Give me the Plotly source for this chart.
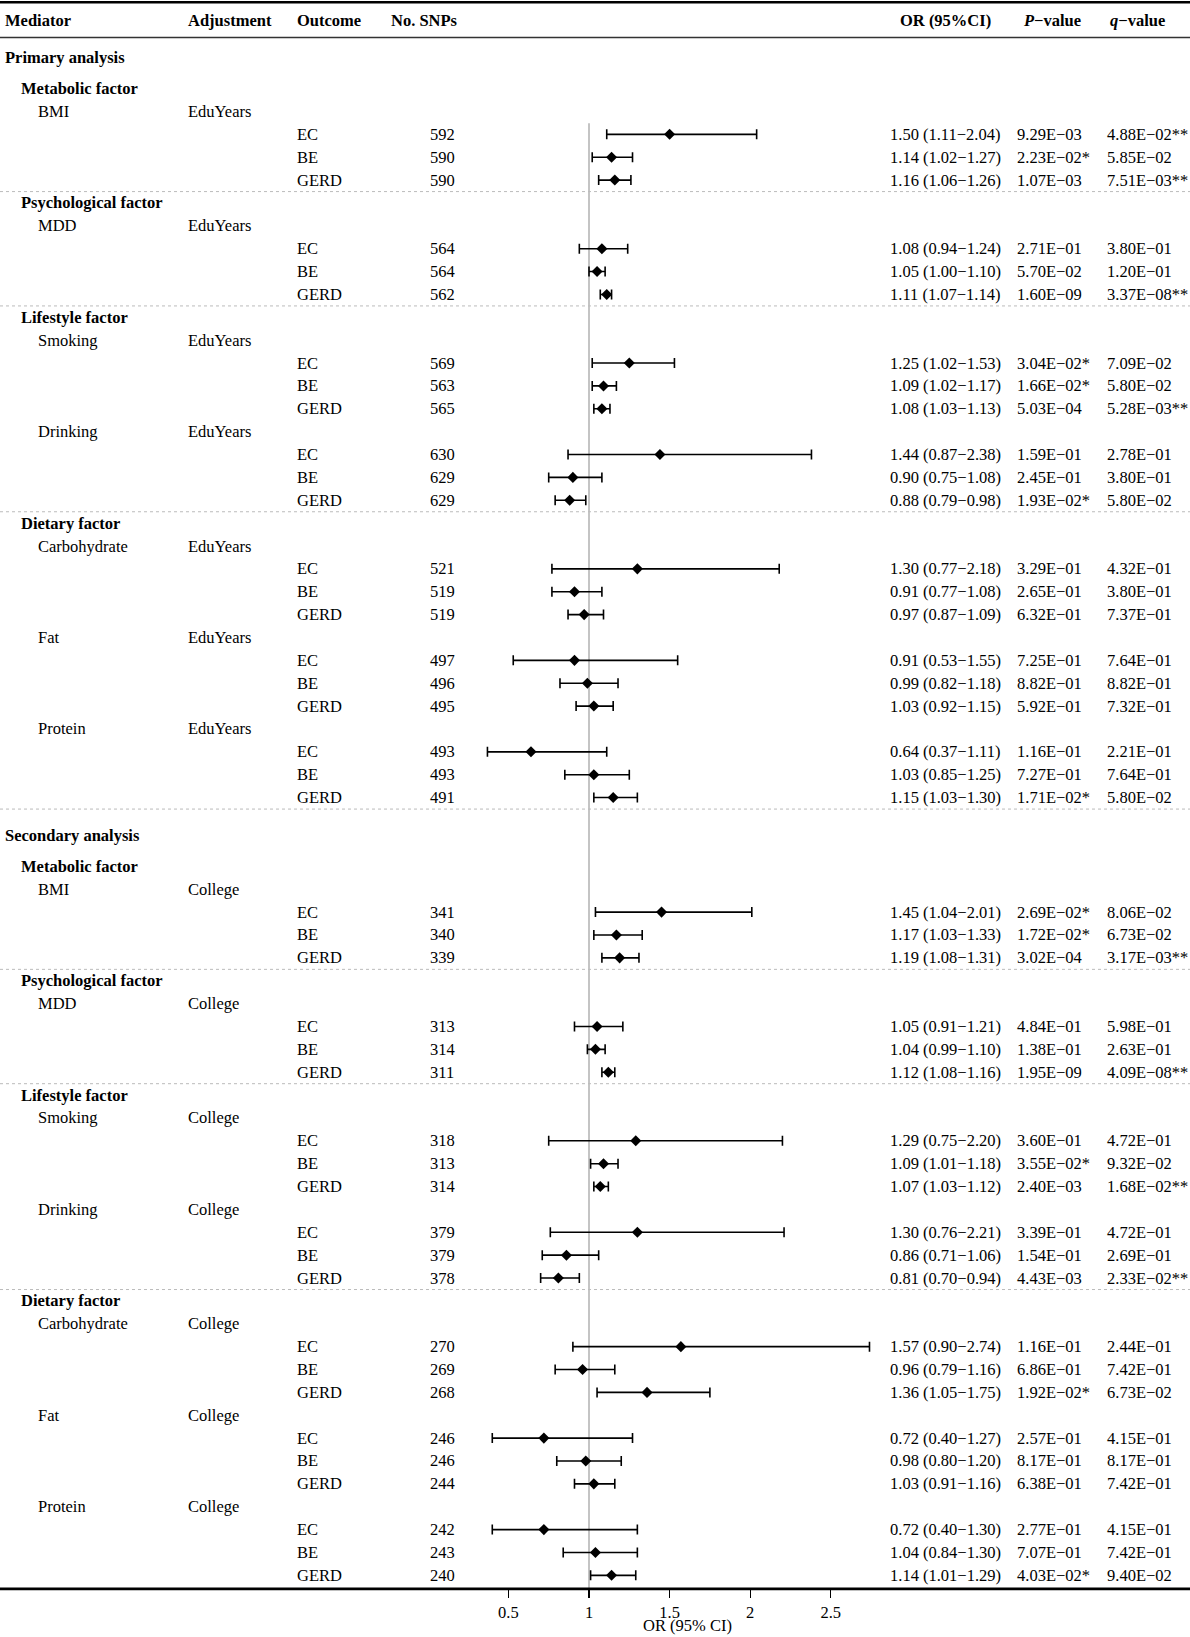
import plotly.graph_objects as go

# ---------------- data ----------------
sections = ["Primary analysis", "Secondary analysis"]
adjustments = ["EduYears", "College"]
factors = ["Metabolic factor", "Psychological factor", "Lifestyle factor", "Dietary factor"]
factor_mediators = [["BMI"], ["MDD"], ["Smoking", "Drinking"], ["Carbohydrate", "Fat", "Protein"]]
outcomes = ["EC", "BE", "GERD"]

n_snps = [592, 590, 590, 564, 564, 562, 569, 563, 565, 630, 629, 629,
          521, 519, 519, 497, 496, 495, 493, 493, 491,
          341, 340, 339, 313, 314, 311, 318, 313, 314, 379, 379, 378,
          270, 269, 268, 246, 246, 244, 242, 243, 240]
or_vals = [1.50, 1.14, 1.16, 1.08, 1.05, 1.11, 1.25, 1.09, 1.08, 1.44, 0.90, 0.88,
           1.30, 0.91, 0.97, 0.91, 0.99, 1.03, 0.64, 1.03, 1.15,
           1.45, 1.17, 1.19, 1.05, 1.04, 1.12, 1.29, 1.09, 1.07, 1.30, 0.86, 0.81,
           1.57, 0.96, 1.36, 0.72, 0.98, 1.03, 0.72, 1.04, 1.14]
ci_low = [1.11, 1.02, 1.06, 0.94, 1.00, 1.07, 1.02, 1.02, 1.03, 0.87, 0.75, 0.79,
          0.77, 0.77, 0.87, 0.53, 0.82, 0.92, 0.37, 0.85, 1.03,
          1.04, 1.03, 1.08, 0.91, 0.99, 1.08, 0.75, 1.01, 1.03, 0.76, 0.71, 0.70,
          0.90, 0.79, 1.05, 0.40, 0.80, 0.91, 0.40, 0.84, 1.01]
ci_high = [2.04, 1.27, 1.26, 1.24, 1.10, 1.14, 1.53, 1.17, 1.13, 2.38, 1.08, 0.98,
           2.18, 1.08, 1.09, 1.55, 1.18, 1.15, 1.11, 1.25, 1.30,
           2.01, 1.33, 1.31, 1.21, 1.10, 1.16, 2.20, 1.18, 1.12, 2.21, 1.06, 0.94,
           2.74, 1.16, 1.75, 1.27, 1.20, 1.16, 1.30, 1.30, 1.29]
p_vals = ["9.29E-03", "2.23E-02*", "1.07E-03", "2.71E-01", "5.70E-02", "1.60E-09",
          "3.04E-02*", "1.66E-02*", "5.03E-04", "1.59E-01", "2.45E-01", "1.93E-02*",
          "3.29E-01", "2.65E-01", "6.32E-01", "7.25E-01", "8.82E-01", "5.92E-01",
          "1.16E-01", "7.27E-01", "1.71E-02*",
          "2.69E-02*", "1.72E-02*", "3.02E-04", "4.84E-01", "1.38E-01", "1.95E-09",
          "3.60E-01", "3.55E-02*", "2.40E-03", "3.39E-01", "1.54E-01", "4.43E-03",
          "1.16E-01", "6.86E-01", "1.92E-02*", "2.57E-01", "8.17E-01", "6.38E-01",
          "2.77E-01", "7.07E-01", "4.03E-02*"]
q_vals = ["4.88E-02**", "5.85E-02", "7.51E-03**", "3.80E-01", "1.20E-01", "3.37E-08**",
          "7.09E-02", "5.80E-02", "5.28E-03**", "2.78E-01", "3.80E-01", "5.80E-02",
          "4.32E-01", "3.80E-01", "7.37E-01", "7.64E-01", "8.82E-01", "7.32E-01",
          "2.21E-01", "7.64E-01", "5.80E-02",
          "8.06E-02", "6.73E-02", "3.17E-03**", "5.98E-01", "2.63E-01", "4.09E-08**",
          "4.72E-01", "9.32E-02", "1.68E-02**", "4.72E-01", "2.69E-01", "2.33E-02**",
          "2.44E-01", "7.42E-01", "6.73E-02", "4.15E-01", "8.17E-01", "7.42E-01",
          "4.15E-01", "7.42E-01", "9.40E-02"]
x_ticks = [0.5, 1, 1.5, 2, 2.5]
x_title = "OR (95% CI)"

# ---------------- layout constants ----------------
W, H = 1190, 1637
FONT = "Liberation Serif"
FS = 16.5
STEP = 22.87
MINUS = "\u2212"

def px(x):
    return x / W

col = dict(lvl0=2.5, lvl1=19, lvl2=35.5, adj=185.5, out=295, snp_h=389, snp=428,
           orv=888, p=1015, q=1105, or_h=946, p_h=1052, q_h=1137)

annotations = []
shapes = []

def txt(x, y, s, anchor="left", bold=False):
    annotations.append(dict(
        x=px(x), y=y, xref="paper", yref="y", text=("<b>%s</b>" % s) if bold else s,
        showarrow=False, xanchor=anchor, yanchor="middle",
        font=dict(family=FONT, size=FS, color="black")))

def hline(y, width=1.0, color="black", dash=None):
    shapes.append(dict(type="line", xref="paper", yref="y", x0=0, x1=1, y0=y, y1=y,
                       line=dict(color=color, width=width, dash=dash)))

# header
y_header = 20.3
txt(col["lvl0"], y_header, "Mediator", bold=True)
txt(col["adj"], y_header, "Adjustment", bold=True)
txt(col["out"], y_header, "Outcome", bold=True)
txt(col["snp_h"], y_header, "No. SNPs", bold=True)
txt(col["or_h"], y_header, "OR (95%CI)", anchor="center", bold=True)
txt(col["p_h"], y_header, "<i>P</i>" + MINUS + "value", anchor="center", bold=True)
txt(col["q_h"], y_header, "<i>q</i>" + MINUS + "value", anchor="center", bold=True)
hline(2.2, 2.6)
hline(37.5, 1.6, "#333333")

ys = []
idx = 0
y = 57.3
first_ec_y = None
for si, sec in enumerate(sections):
    if si > 0:
        y += 37.5
    txt(col["lvl0"], y, sec, bold=True)
    y += 31.3
    for fi, fac in enumerate(factors):
        if fi > 0:
            y += STEP
        txt(col["lvl1"], y, fac, bold=True)
        for mi, med in enumerate(factor_mediators[fi]):
            y += STEP
            txt(col["lvl2"], y, med)
            txt(col["adj"], y, adjustments[si])
            for oc in outcomes:
                y += STEP
                if first_ec_y is None:
                    first_ec_y = y
                ys.append(y)
                txt(col["out"], y, oc)
                txt(col["snp"], y, str(n_snps[idx]))
                txt(col["orv"], y, "%.2f (%.2f%s%.2f)" % (or_vals[idx], ci_low[idx], MINUS, ci_high[idx]))
                txt(col["p"], y, p_vals[idx].replace("-", MINUS))
                txt(col["q"], y, q_vals[idx].replace("-", MINUS))
                idx += 1
        last = (si == len(sections) - 1 and fi == len(factors) - 1)
        if not last:
            hline(y + 11.5, 1.0, "#BBBBBB", "3px,3px")

y_bottom = y + 13.5
hline(y_bottom, 2.6)

# reference line at OR = 1
shapes.append(dict(type="line", xref="x", yref="y", x0=1, x1=1, y0=first_ec_y - 11, y1=y_bottom,
                   line=dict(color="#BEBEBE", width=1.8), layer="below"))

fig = go.Figure()
fig.add_trace(go.Scatter(
    x=or_vals, y=ys, mode="markers",
    marker=dict(symbol="diamond", size=8.5, color="black"),
    error_x=dict(type="data", symmetric=False,
                 array=[h - o for h, o in zip(ci_high, or_vals)],
                 arrayminus=[o - l for o, l in zip(or_vals, ci_low)],
                 color="black", thickness=1.6, width=5),
    hoverinfo="skip", showlegend=False))

# x-axis title
annotations.append(dict(x=1.61, y=y_bottom + 37, xref="x", yref="y", text=x_title, showarrow=False,
                        xanchor="center", yanchor="middle",
                        font=dict(family=FONT, size=FS, color="black")))

x_lo, x_hi = 0.3, 2.86
px_per = 161.2
x1_px = 589
fig.update_layout(
    width=W, height=H, margin=dict(l=0, r=0, t=0, b=0),
    paper_bgcolor="white", plot_bgcolor="white",
    font=dict(family=FONT, size=FS, color="black"),
    shapes=shapes, annotations=annotations,
    xaxis=dict(domain=[px(x1_px + (x_lo - 1) * px_per), px(x1_px + (x_hi - 1) * px_per)],
               range=[x_lo, x_hi], anchor="free", position=1 - y_bottom / H,
               tickvals=x_ticks, ticktext=[("%g" % t) for t in x_ticks],
               ticks="outside", ticklen=8, tickwidth=1.3, tickcolor="black",
               showline=False, showgrid=False, zeroline=False,
               tickfont=dict(family=FONT, size=FS, color="black")),
    yaxis=dict(domain=[0, 1], range=[H, 0], visible=False, showgrid=False, zeroline=False),
)

fig.write_html("out.html", config={"displayModeBar": False, "staticPlot": True},
               post_script="document.body.style.margin='0';document.body.style.overflow='hidden';")
